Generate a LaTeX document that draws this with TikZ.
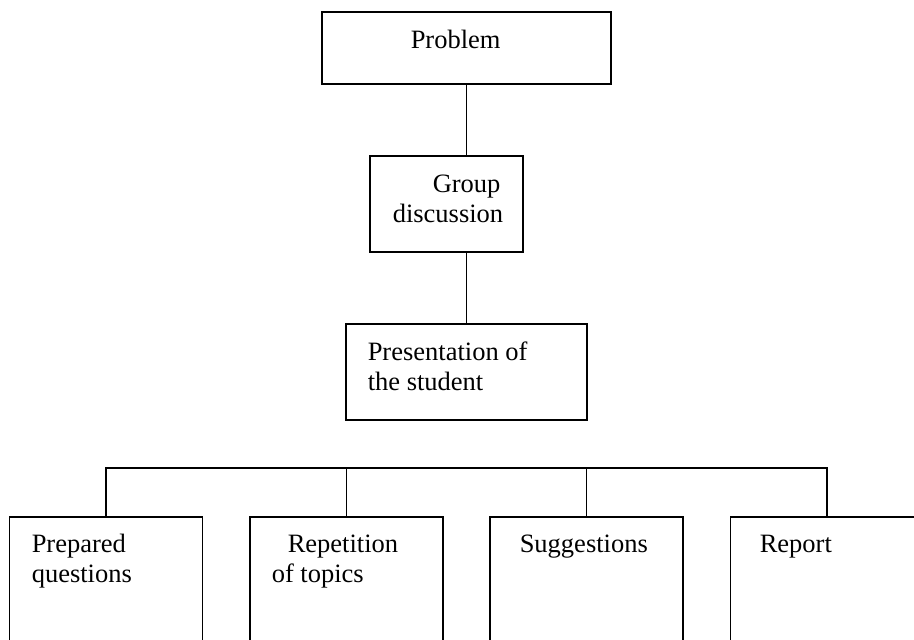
\documentclass[tikz,border=0pt]{standalone}
\usepackage{fontspec}
\setmainfont{Liberation Serif}

\tikzset{
  box/.style={draw, rectangle, inner sep=0pt},
  leaf/.style={box, minimum width=96.5pt, minimum height=75pt},
  txt/.style={anchor=base west, inner sep=0pt, font=\fontsize{13.25}{15}\selectfont},
}

\begin{document}
\begin{tikzpicture}[x=0.5pt, y=-0.5pt, line width=0.75pt]
\useasboundingbox (0,0) rectangle (914,639);
\clip (0,0) rectangle (914,639);

\draw[solid]
(466.5,48) node[box, minimum width=144.5pt, minimum height=36pt] (prob) {}
(446.5,204) node[box, minimum width=76.5pt, minimum height=48pt] (grp) {}
(466.5,372) node[box, minimum width=120.5pt, minimum height=48pt] (pres) {}
(106,592) node[leaf] (prep) {}
(346.5,592) node[leaf] (rep) {}
(586.5,592) node[leaf] (sugg) {}
(827,592) node[leaf] (rpt) {};

% texts
\path
(410,48) node[txt] (probt) {Problem}
(432,192) node[txt] (grpa) {Group}
(392,222) node[txt] (grpb) {discussion}
(367,360) node[txt] (presa) {Presentation of}
(367,390) node[txt] (presb) {the student}
(31,552) node[txt] (prepa) {Prepared}
(31,582) node[txt] (prepb) {questions}
(287,552) node[txt] (repa) {Repetition}
(271,582) node[txt] (repb) {of topics}
(519,552) node[txt] (sugga) {Suggestions}
(759,552) node[txt] (rpta) {Report};

\coordinate (bar) at (0,468);
\draw (prob.south) -- (prob.south |- grp.north);
\draw (pres.north |- grp.south) -- (pres.north);
\draw (prep.north) -- (prep.north |- bar) -| (rpt.north);
\draw (rep.north) -- (rep.north |- bar);
\draw (sugg.north) -- (sugg.north |- bar);
\end{tikzpicture}
\end{document}
